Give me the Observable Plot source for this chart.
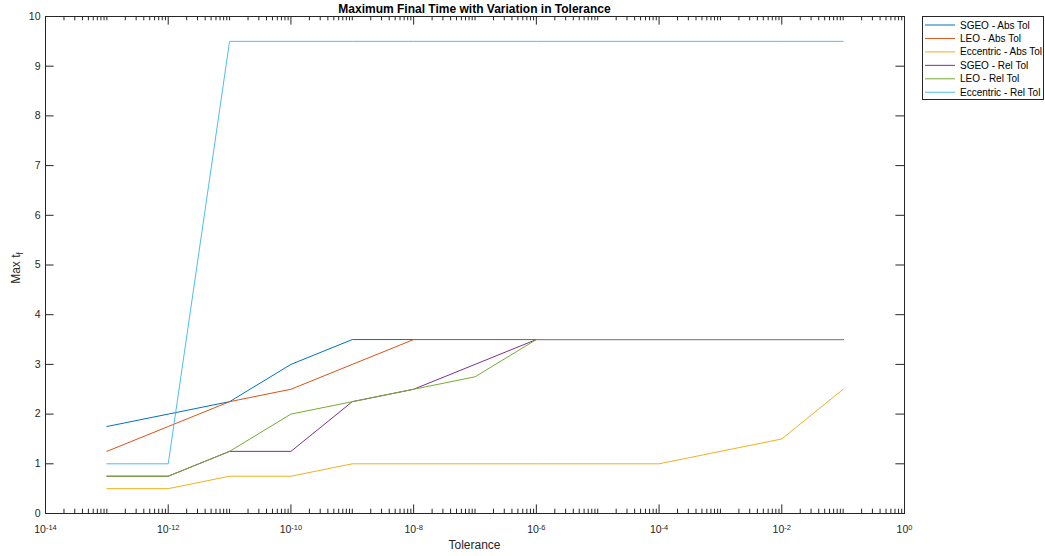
<!DOCTYPE html>
<html><head><meta charset="utf-8">
<script src="https://cdn.jsdelivr.net/npm/d3@7"></script>
<script src="https://cdn.jsdelivr.net/npm/@observablehq/plot@0.6"></script>
<style>
body{margin:0;background:#fff;font-family:"Liberation Sans",Arial,sans-serif}
#wrap{position:relative;width:1045px;height:556px}
</style>
</head><body><div id="wrap"></div>
<script>
// ---- data ----
const tolerances = [1e-13, 1e-12, 1e-11, 1e-10, 1e-9, 1e-8, 1e-7, 1e-6, 1e-4, 1e-2, 1e-1];
const sgeoAbs = [1.75, 2.0, 2.25, 3.0, 3.5, 3.5, 3.5, 3.5, 3.5, 3.5, 3.5];
const leoAbs  = [1.25, 1.75, 2.25, 2.5, 3.0, 3.5, 3.5, 3.5, 3.5, 3.5, 3.5];
const eccAbs  = [0.5, 0.5, 0.75, 0.75, 1.0, 1.0, 1.0, 1.0, 1.0, 1.5, 2.5];
const sgeoRel = [0.75, 0.75, 1.25, 1.25, 2.25, 2.5, 3.0, 3.5, 3.5, 3.5, 3.5];
const leoRel  = [0.75, 0.75, 1.25, 2.0, 2.25, 2.5, 2.75, 3.5, 3.5, 3.5, 3.5];
const eccRel  = [1.0, 1.0, 9.5, 9.5, 9.5, 9.5, 9.5, 9.5, 9.5, 9.5, 9.5];
const seriesNames = ["SGEO - Abs Tol", "LEO - Abs Tol", "Eccentric - Abs Tol", "SGEO - Rel Tol", "LEO - Rel Tol", "Eccentric - Rel Tol"];
const seriesColors = ["#0072BD", "#D95319", "#EDB120", "#7E2F8E", "#77AC30", "#4DBEEE"];
const xMajorTicks = [1e-14, 1e-12, 1e-10, 1e-8, 1e-6, 1e-4, 1e-2, 1];
const yTicks = [0, 1, 2, 3, 4, 5, 6, 7, 8, 9, 10];
const titleText = "Maximum Final Time with Variation in Tolerance";
const xLabel = "Tolerance";

// ---- build ----
const allValues = [sgeoAbs, leoAbs, eccAbs, sgeoRel, leoRel, eccRel];
const data = allValues.flatMap((vals, s) => tolerances.map((t, i) => ({t, v: vals[i], name: seriesNames[s]})));

const minorX = [];
for (let k = -14; k < 0; k++) {
  for (let m = 2; m <= 10; m++) {
    if (m === 10 && (k + 1) % 2 === 0) continue;
    minorX.push(m * Math.pow(10, k));
  }
}

const W = 1045, H = 556, mL = 45, mR = 141, mT = 16, mB = 43;
const fh = H - mT - mB, fw = W - mL - mR;
const ax = "#262626";
const tl = 8.6, tm = 4.3;

const plot = Plot.plot({
  width: W, height: H,
  marginLeft: mL, marginRight: mR, marginTop: mT, marginBottom: mB,
  style: {fontFamily: "'Liberation Sans', Arial, sans-serif", fontSize: "10px", color: ax, background: "#fff"},
  x: {type: "log", domain: [1e-14, 1]},
  y: {domain: [0, 10]},
  color: {domain: seriesNames, range: seriesColors},
  marks: [
    Plot.tickX(xMajorTicks, {x: d => d, insetTop: fh - tl, stroke: ax}),
    Plot.tickX(xMajorTicks, {x: d => d, insetBottom: fh - tl, stroke: ax}),
    Plot.tickX(minorX, {x: d => d, insetTop: fh - tm, stroke: ax}),
    Plot.tickX(minorX, {x: d => d, insetBottom: fh - tm, stroke: ax}),
    Plot.tickY(yTicks, {y: d => d, insetRight: fw - tl, stroke: ax}),
    Plot.tickY(yTicks, {y: d => d, insetLeft: fw - tl, stroke: ax}),
    Plot.axisX(xMajorTicks, {tickSize: 0, tickPadding: 12, label: null, fontSize: 10.5,
      tickFormat: d => "10^" + Math.round(Math.log10(d))}),
    Plot.axisY(yTicks, {tickSize: 0, tickPadding: 5, label: null, fontSize: 10.5, tickFormat: d => String(d)}),
    Plot.lineY(data, {x: "t", y: "v", stroke: "name", z: "name", strokeWidth: 1}),
    Plot.frame({stroke: ax})
  ]
});
document.getElementById("wrap").appendChild(plot);

const svg = d3.select(plot);
svg.selectAll('g[aria-label="x-axis tick label"] text').each(function () {
  const m = this.textContent.match(/^10\^(-?\d+)$/);
  if (m) {
    const s = d3.select(this);
    s.text("10");
    s.append("tspan").attr("dy", "-0.45em").attr("font-size", "7.5px").text(m[1]);
  }
});

const cx = mL + fw / 2;
svg.append("text").attr("x", cx).attr("y", 13.3).attr("text-anchor", "middle")
  .attr("font-weight", "bold").attr("font-size", "12px").attr("fill", "#000").text(titleText);
svg.append("text").attr("x", cx).attr("y", 548.5).attr("text-anchor", "middle")
  .attr("font-size", "12px").attr("fill", ax).text(xLabel);
const yl = svg.append("text").attr("transform", "translate(20,268) rotate(-90)").attr("text-anchor", "middle")
  .attr("font-size", "12px").attr("fill", ax);
yl.append("tspan").text("Max t");
yl.append("tspan").attr("font-size", "8.5px").attr("dy", "0.3em").text("f");

// legend
const lg = svg.append("g").attr("text-anchor", "start");
lg.append("rect").attr("x", 922.5).attr("y", 16.5).attr("width", 121).attr("height", 83)
  .attr("fill", "#fff").attr("stroke", ax).attr("stroke-width", 1);
seriesNames.forEach((n, i) => {
  const y = 25 + i * 13.45;
  lg.append("line").attr("x1", 925).attr("x2", 955).attr("y1", y).attr("y2", y)
    .attr("stroke", seriesColors[i]).attr("stroke-width", 1);
  lg.append("text").attr("x", 960).attr("y", y).attr("dy", "0.35em").attr("text-anchor", "start")
    .attr("font-size", "10px").attr("fill", "#000").text(n);
});
</script>
</body></html>
